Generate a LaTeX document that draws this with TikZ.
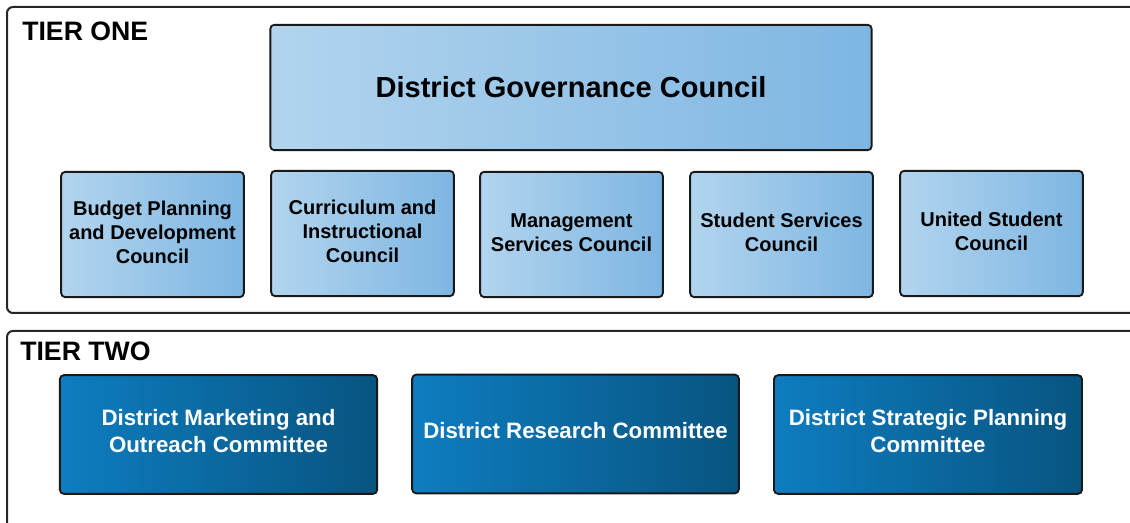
\documentclass[tikz,border=0pt]{standalone}
\usepackage{fontspec}
\setmainfont{Liberation Sans}
\definecolor{paleleft}{RGB}{178,212,238}
\definecolor{paleright}{RGB}{126,182,226}
\definecolor{deepleft}{RGB}{14,125,192}
\definecolor{deepright}{RGB}{8,84,128}
\begin{document}
\begin{tikzpicture}[x=0.75pt,y=-0.75pt,
    tier/.style={draw=black!85, line width=1.5pt, rounded corners=4.5pt},
    tierlabel/.style={anchor=base west, inner sep=0pt, font=\bfseries\fontsize{20}{24}\selectfont},
    council/.style={draw=black!90, line width=1.4pt, rounded corners=3pt, left color=paleleft, right color=paleright,
        align=center, inner sep=0pt, text depth=3pt, minimum width=137pt, minimum height=94pt, font=\bfseries\fontsize{15}{18}\selectfont},
    committee/.style={draw=black!90, line width=1.4pt, rounded corners=3pt, left color=deepleft, right color=deepright,
        text=white, align=center, inner sep=0pt, text depth=5pt, minimum height=89pt, font=\bfseries\fontsize{16.7}{20.3}\selectfont}]
  \useasboundingbox (0,0) rectangle (1130,523);
  % tier frames
  \draw[tier] (7,7) rectangle (1140,313);
  \draw[tier] (7,331) rectangle (1140,535);
  \node[tierlabel] (tierone) at (22,41) {TIER ONE};
  \node[tierlabel] (tiertwo) at (20,361) {TIER TWO};
  % tier one
  \node[council, minimum width=451pt, text depth=1.5pt, font=\bfseries\fontsize{21.8}{26}\selectfont] (governance) at (571,87.5) {District Governance Council};
  \node[council] (budget) at (152.5,234.5) {Budget Planning\\and Development\\Council};
  \node[council] (curriculum) at (362.5,233.5) {Curriculum and\\Instructional\\Council};
  \node[council] (management) at (571.5,234.5) {Management\\Services Council};
  \node[council] (services) at (781.5,234.5) {Student Services\\Council};
  \node[council] (united) at (991.5,233.5) {United Student\\Council};
  % tier two
  \node[committee, minimum width=238pt] (marketing) at (218.5,434.5) {District Marketing and\\Outreach Committee};
  \node[committee, minimum width=245pt] (research) at (575.5,434) {District Research Committee};
  \node[committee, minimum width=231pt] (strategic) at (928,434.5) {District Strategic Planning\\Committee};
\end{tikzpicture}
\end{document}
